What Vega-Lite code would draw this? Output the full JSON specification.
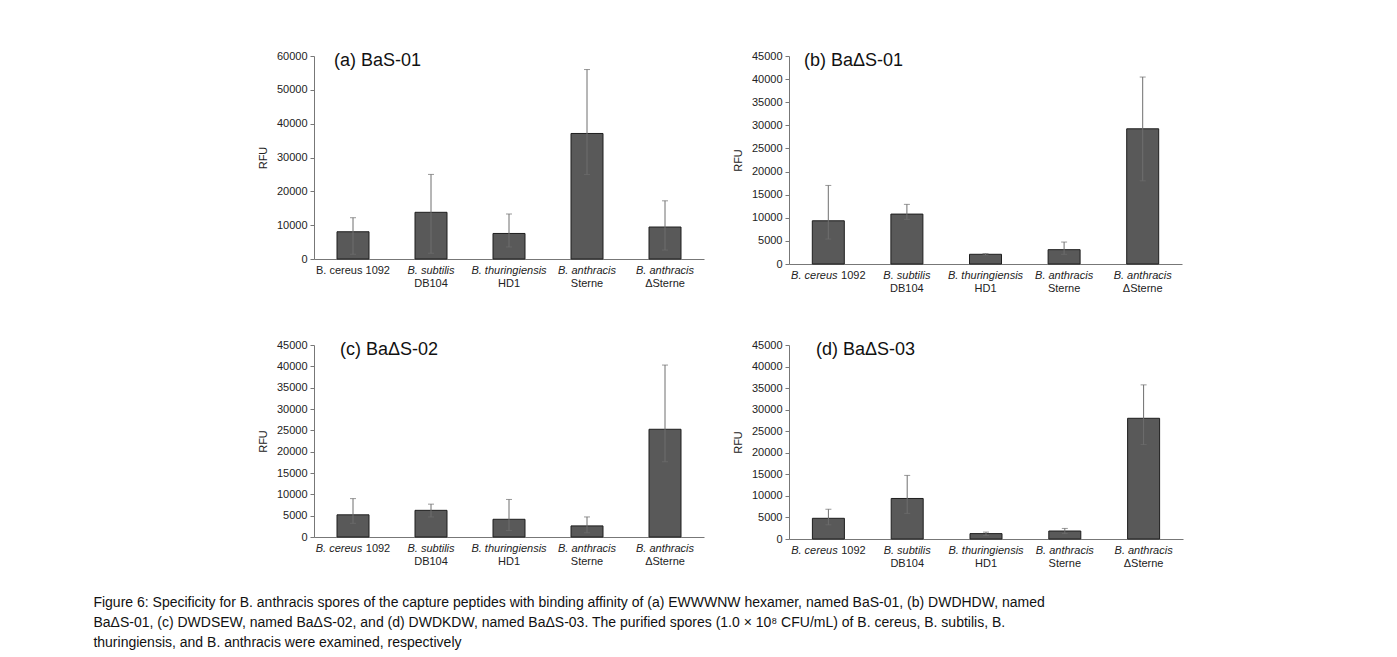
{
  "$schema": "https://vega.github.io/schema/vega-lite/v6.json",
  "padding": {"left": 93, "top": 50, "right": 5, "bottom": 5},
  "background": "white",
  "config": {
    "font": "Liberation Sans",
    "view": {"stroke": null},
    "axis": {"grid": false, "labelFontSize": 11, "labelColor": "#222", "titleFontSize": 11, "titleFontWeight": "normal", "titleColor": "#222", "domainColor": "#777", "tickColor": "#777", "labelOverlap": false}
  },
  "title": {
    "text": [
      "Figure 6: Specificity for B. anthracis spores of the capture peptides with binding affinity of (a) EWWWNW hexamer, named BaS-01, (b) DWDHDW, named",
      "BaΔS-01, (c) DWDSEW, named BaΔS-02, and (d) DWDKDW, named BaΔS-03. The purified spores (1.0 × 10⁸ CFU/mL) of B. cereus, B. subtilis, B.",
      "thuringiensis, and B. anthracis were examined, respectively"
    ],
    "orient": "bottom", "anchor": "start", "dx": -164, "offset": 28, "fontSize": 14, "fontWeight": "normal", "lineHeight": 20, "color": "#111"
  },
  "datasets": {
    "a": [
      {"cat": "B. cereus 1092|", "mean": 8050, "lo": 1400, "hi": 12200},
      {"cat": "B. subtilis|DB104", "mean": 13800, "lo": 1700, "hi": 25000},
      {"cat": "B. thuringiensis|HD1", "mean": 7550, "lo": 3550, "hi": 13300},
      {"cat": "B. anthracis|Sterne", "mean": 37100, "lo": 25000, "hi": 56000},
      {"cat": "B. anthracis|ΔSterne", "mean": 9450, "lo": 2650, "hi": 17200}
    ],
    "b": [
      {"cat": "B. cereus|1092", "mean": 9350, "lo": 5400, "hi": 17000},
      {"cat": "B. subtilis|DB104", "mean": 10800, "lo": 9650, "hi": 12900},
      {"cat": "B. thuringiensis|HD1", "mean": 2100, "lo": 1950, "hi": 2250},
      {"cat": "B. anthracis|Sterne", "mean": 3100, "lo": 2100, "hi": 4750},
      {"cat": "B. anthracis|ΔSterne", "mean": 29250, "lo": 18000, "hi": 40450}
    ],
    "c": [
      {"cat": "B. cereus|1092", "mean": 5200, "lo": 3200, "hi": 9000},
      {"cat": "B. subtilis|DB104", "mean": 6250, "lo": 4700, "hi": 7700},
      {"cat": "B. thuringiensis|HD1", "mean": 4150, "lo": 1500, "hi": 8800},
      {"cat": "B. anthracis|Sterne", "mean": 2600, "lo": 1000, "hi": 4700},
      {"cat": "B. anthracis|ΔSterne", "mean": 25250, "lo": 17650, "hi": 40300}
    ],
    "d": [
      {"cat": "B. cereus|1092", "mean": 4800, "lo": 3300, "hi": 6900},
      {"cat": "B. subtilis|DB104", "mean": 9400, "lo": 5950, "hi": 14750},
      {"cat": "B. thuringiensis|HD1", "mean": 1250, "lo": 850, "hi": 1600},
      {"cat": "B. anthracis|Sterne", "mean": 1850, "lo": 1250, "hi": 2450},
      {"cat": "B. anthracis|ΔSterne", "mean": 28000, "lo": 21900, "hi": 35750}
    ]
  },
  "spacing": 46,
  "vconcat": [
    {
      "spacing": 28,
      "hconcat": [
        {
          "data": {"name": "a"},
          "width": 390, "height": 203,
          "title": {"text": "(a) BaS-01", "anchor": "start", "frame": "group", "offset": -20, "dx": 20, "fontSize": 18, "fontWeight": "normal", "color": "#111"},
          "layer": [
            {
              "mark": {"type": "bar", "width": 32, "fill": "#595959", "stroke": "#1e1e1e", "strokeWidth": 1},
              "encoding": {
                "x": {"field": "cat", "type": "nominal", "sort": null, "scale": {"paddingInner": 0, "paddingOuter": 0},
                  "axis": {"orient": "bottom", "title": null, "labelAngle": 0, "ticks": false, "labelPadding": 5, "labelExpr": "split(datum.value, '|')[0]",
                    "labelFontStyle": {"condition": {"test": "datum.value == 'B. cereus 1092|'", "value": "normal"}, "value": "italic"}}},
                "y": {"field": "mean", "type": "quantitative", "scale": {"domain": [0, 60000], "nice": false},
                  "axis": {"title": "RFU", "values": [0, 10000, 20000, 30000, 40000, 50000, 60000], "format": "d", "tickSize": 4, "labelPadding": 3, "titlePadding": 8}}
              }
            },
            {
              "mark": {"type": "errorbar", "ticks": {"size": 6}, "color": "#6e6e6e"},
              "encoding": {
                "x": {"field": "cat", "type": "nominal", "sort": null,
                  "axis": {"orient": "bottom", "title": null, "labelAngle": 0, "ticks": false, "domain": false, "labelPadding": 18, "labelExpr": "split(datum.value, '|')[1]", "labelFontStyle": "normal"}},
                "y": {"field": "lo", "type": "quantitative", "scale": {"domain": [0, 60000], "nice": false},
                  "axis": {"title": "RFU", "values": [0, 10000, 20000, 30000, 40000, 50000, 60000], "format": "d", "tickSize": 4, "labelPadding": 3, "titlePadding": 8}},
                "y2": {"field": "hi"}
              }
            }
          ],
          "resolve": {"axis": {"x": "independent"}}
        },
        {
          "data": {"name": "b"},
          "width": 393, "height": 208,
          "title": {"text": "(b) BaΔS-01", "anchor": "start", "frame": "group", "offset": -20, "dx": 15, "fontSize": 18, "fontWeight": "normal", "color": "#111"},
          "layer": [
            {
              "mark": {"type": "bar", "width": 32, "fill": "#595959", "stroke": "#1e1e1e", "strokeWidth": 1},
              "encoding": {
                "x": {"field": "cat", "type": "nominal", "sort": null, "scale": {"paddingInner": 0, "paddingOuter": 0},
                  "axis": {"orient": "bottom", "title": null, "labelAngle": 0, "ticks": false, "labelPadding": 5, "labelExpr": "split(datum.value, '|')[0]", "labelFontStyle": "italic",
                    "labelOffset": {"condition": {"test": "datum.value == 'B. cereus|1092'", "value": -14}, "value": 0}}},
                "y": {"field": "mean", "type": "quantitative", "scale": {"domain": [0, 45000], "nice": false},
                  "axis": {"title": "RFU", "values": [0, 5000, 10000, 15000, 20000, 25000, 30000, 35000, 40000, 45000], "format": "d", "tickSize": 4, "labelPadding": 3, "titlePadding": 8}}
              }
            },
            {
              "mark": {"type": "errorbar", "ticks": {"size": 6}, "color": "#6e6e6e"},
              "encoding": {
                "x": {"field": "cat", "type": "nominal", "sort": null,
                  "axis": {"orient": "bottom", "title": null, "labelAngle": 0, "ticks": false, "domain": false, "labelExpr": "split(datum.value, '|')[1]", "labelFontStyle": "normal",
                    "labelPadding": {"condition": {"test": "datum.value == 'B. cereus|1092'", "value": 5}, "value": 18},
                    "labelOffset": {"condition": {"test": "datum.value == 'B. cereus|1092'", "value": 25}, "value": 0}}},
                "y": {"field": "lo", "type": "quantitative", "scale": {"domain": [0, 45000], "nice": false},
                  "axis": {"title": "RFU", "values": [0, 5000, 10000, 15000, 20000, 25000, 30000, 35000, 40000, 45000], "format": "d", "tickSize": 4, "labelPadding": 3, "titlePadding": 8}},
                "y2": {"field": "hi"}
              }
            }
          ],
          "resolve": {"axis": {"x": "independent"}}
        }
      ]
    },
    {
      "spacing": 28,
      "hconcat": [
        {
          "data": {"name": "c"},
          "width": 390, "height": 192,
          "title": {"text": "(c) BaΔS-02", "anchor": "start", "frame": "group", "offset": -20, "dx": 26, "fontSize": 18, "fontWeight": "normal", "color": "#111"},
          "layer": [
            {
              "mark": {"type": "bar", "width": 32, "fill": "#595959", "stroke": "#1e1e1e", "strokeWidth": 1},
              "encoding": {
                "x": {"field": "cat", "type": "nominal", "sort": null, "scale": {"paddingInner": 0, "paddingOuter": 0},
                  "axis": {"orient": "bottom", "title": null, "labelAngle": 0, "ticks": false, "labelPadding": 5, "labelExpr": "split(datum.value, '|')[0]", "labelFontStyle": "italic",
                    "labelOffset": {"condition": {"test": "datum.value == 'B. cereus|1092'", "value": -14}, "value": 0}}},
                "y": {"field": "mean", "type": "quantitative", "scale": {"domain": [0, 45000], "nice": false},
                  "axis": {"title": "RFU", "values": [0, 5000, 10000, 15000, 20000, 25000, 30000, 35000, 40000, 45000], "format": "d", "tickSize": 4, "labelPadding": 3, "titlePadding": 8}}
              }
            },
            {
              "mark": {"type": "errorbar", "ticks": {"size": 6}, "color": "#6e6e6e"},
              "encoding": {
                "x": {"field": "cat", "type": "nominal", "sort": null,
                  "axis": {"orient": "bottom", "title": null, "labelAngle": 0, "ticks": false, "domain": false, "labelExpr": "split(datum.value, '|')[1]", "labelFontStyle": "normal",
                    "labelPadding": {"condition": {"test": "datum.value == 'B. cereus|1092'", "value": 5}, "value": 18},
                    "labelOffset": {"condition": {"test": "datum.value == 'B. cereus|1092'", "value": 25}, "value": 0}}},
                "y": {"field": "lo", "type": "quantitative", "scale": {"domain": [0, 45000], "nice": false},
                  "axis": {"title": "RFU", "values": [0, 5000, 10000, 15000, 20000, 25000, 30000, 35000, 40000, 45000], "format": "d", "tickSize": 4, "labelPadding": 3, "titlePadding": 8}},
                "y2": {"field": "hi"}
              }
            }
          ],
          "resolve": {"axis": {"x": "independent"}}
        },
        {
          "data": {"name": "d"},
          "width": 394, "height": 194,
          "title": {"text": "(d) BaΔS-03", "anchor": "start", "frame": "group", "offset": -20, "dx": 27, "fontSize": 18, "fontWeight": "normal", "color": "#111"},
          "layer": [
            {
              "mark": {"type": "bar", "width": 32, "fill": "#595959", "stroke": "#1e1e1e", "strokeWidth": 1},
              "encoding": {
                "x": {"field": "cat", "type": "nominal", "sort": null, "scale": {"paddingInner": 0, "paddingOuter": 0},
                  "axis": {"orient": "bottom", "title": null, "labelAngle": 0, "ticks": false, "labelPadding": 5, "labelExpr": "split(datum.value, '|')[0]", "labelFontStyle": "italic",
                    "labelOffset": {"condition": {"test": "datum.value == 'B. cereus|1092'", "value": -14}, "value": 0}}},
                "y": {"field": "mean", "type": "quantitative", "scale": {"domain": [0, 45000], "nice": false},
                  "axis": {"title": "RFU", "values": [0, 5000, 10000, 15000, 20000, 25000, 30000, 35000, 40000, 45000], "format": "d", "tickSize": 4, "labelPadding": 3, "titlePadding": 8}}
              }
            },
            {
              "mark": {"type": "errorbar", "ticks": {"size": 6}, "color": "#6e6e6e"},
              "encoding": {
                "x": {"field": "cat", "type": "nominal", "sort": null,
                  "axis": {"orient": "bottom", "title": null, "labelAngle": 0, "ticks": false, "domain": false, "labelExpr": "split(datum.value, '|')[1]", "labelFontStyle": "normal",
                    "labelPadding": {"condition": {"test": "datum.value == 'B. cereus|1092'", "value": 5}, "value": 18},
                    "labelOffset": {"condition": {"test": "datum.value == 'B. cereus|1092'", "value": 25}, "value": 0}}},
                "y": {"field": "lo", "type": "quantitative", "scale": {"domain": [0, 45000], "nice": false},
                  "axis": {"title": "RFU", "values": [0, 5000, 10000, 15000, 20000, 25000, 30000, 35000, 40000, 45000], "format": "d", "tickSize": 4, "labelPadding": 3, "titlePadding": 8}},
                "y2": {"field": "hi"}
              }
            }
          ],
          "resolve": {"axis": {"x": "independent"}}
        }
      ]
    }
  ]
}
